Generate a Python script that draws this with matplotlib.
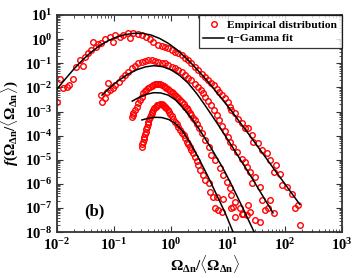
import numpy as np
import matplotlib
matplotlib.use("Agg")
import matplotlib.pyplot as plt
from matplotlib.ticker import LogLocator, NullFormatter

# values, as log10 of x and log10 of y
emp1_lx = [-2.0, -1.95, -1.89, -1.82, -1.79, -1.72, -1.67, -1.60, -1.54, -1.50,
           -1.45, -1.41, -1.36, -1.32, -1.28, -1.22, -1.16, -1.07, -1.01, -0.98,
           -0.89, -0.84, -0.76, -0.72, -0.66, -0.57, -0.51, -0.44, -0.37, -0.31,
           -0.22, -0.16, -0.11, -0.05, 0.01, 0.07, 0.12, 0.19, 0.25, 0.30,
           0.36, 0.42, 0.48, 0.54, 0.60, 0.65, 0.70, 0.75, 0.80, 0.85,
           0.90, 0.95, 1.00, 1.03, 1.06, 1.12, 1.18, 1.24, 1.30, 1.36,
           1.42, 1.44, 1.53, 1.59, 1.68, 1.74, 1.80, 1.85, 1.91, 1.94,
           2.03, 2.12, 2.18, 2.23, 2.26]
emp1_ly = [-2.61, -1.66, -2.03, -1.99, -1.90, -1.66, -1.16, -0.87, -1.10, -0.73,
           -0.59, -0.45, -0.13, -0.31, -0.22, -0.18, -0.01, 0.10, -0.13, 0.17,
           0.10, 0.17, 0.27, 0.06, 0.24, 0.21, 0.17, 0.10, -0.01, -0.11,
           -0.24, -0.29, -0.31, -0.38, -0.45, -0.52, -0.59, -0.66, -0.80, -0.87,
           -1.00, -1.14, -1.28, -1.45, -1.55, -1.68, -1.80, -1.92, -2.05, -2.18,
           -2.30, -2.45, -2.62, -2.80, -2.94, -3.08, -3.29, -3.49, -3.70, -3.70,
           -3.98, -4.26, -4.32, -4.60, -4.74, -5.02, -5.50, -5.22, -5.57, -6.05,
           -6.12, -6.40, -7.02, -6.88, -7.71]

emp2_lx = [-1.22, -1.21, -1.16, -1.13, -1.10, -1.07, -1.01, -0.98, -0.92, -0.86,
           -0.81, -0.75, -0.69, -0.63, -0.57, -0.51, -0.46, -0.40, -0.34, -0.28,
           -0.22, -0.16, -0.11, -0.05, 0.01, 0.07, 0.13, 0.19, 0.25, 0.30,
           0.36, 0.42, 0.48, 0.53, 0.57, 0.60, 0.65, 0.70, 0.75, 0.80,
           0.85, 0.90, 0.95, 1.00, 1.04, 1.09, 1.15, 1.24, 1.30, 1.33,
           1.39, 1.42, 1.47, 1.56, 1.59, 1.65, 1.71, 1.74, 1.80]
emp2_ly = [-2.32, -2.60, -2.45, -2.18, -1.83, -2.11, -2.04, -1.90, -1.77, -1.63,
           -1.49, -1.35, -1.21, -1.12, -1.00, -0.94, -0.90, -0.87, -0.87, -0.90,
           -0.94, -0.97, -1.00, -1.07, -1.14, -1.21, -1.28, -1.38, -1.49, -1.60,
           -1.70, -1.84, -1.98, -2.12, -2.25, -2.40, -2.55, -2.75, -2.95, -3.15,
           -3.35, -3.60, -3.80, -4.05, -4.26, -4.46, -4.67, -4.95, -5.09, -5.29,
           -5.50, -5.98, -5.71, -6.12, -6.68, -7.09, -7.02, -6.68, -7.20]

emp3_lx = [-0.69, -0.67, -0.66, -0.63, -0.60, -0.57, -0.54, -0.51, -0.49, -0.46,
           -0.43, -0.40, -0.37, -0.34, -0.31, -0.28, -0.25, -0.22, -0.19, -0.16,
           -0.13, -0.11, -0.08, -0.05, -0.02, 0.01, 0.04, 0.07, 0.10, 0.13,
           0.16, 0.19, 0.22, 0.25, 0.28, 0.30, 0.33, 0.36, 0.39, 0.42,
           0.46, 0.50, 0.54, 0.60, 0.66, 0.71, 0.77, 0.86, 0.92, 0.98,
           1.04, 1.06, 1.12, 1.09, 1.21, 1.24, 1.33, 1.36, 1.39, 1.47, 1.56]
emp3_ly = [-3.22, -3.15, -3.08, -2.94, -2.80, -2.66, -2.53, -2.39, -2.25, -2.14,
           -2.09, -2.04, -1.99, -1.95, -1.91, -1.88, -1.87, -1.86, -1.88, -1.90,
           -1.94, -1.98, -2.03, -2.08, -2.13, -2.18, -2.25, -2.32, -2.39, -2.46,
           -2.53, -2.60, -2.70, -2.80, -2.87, -2.94, -3.05, -3.15, -3.25, -3.36,
           -3.50, -3.70, -3.91, -4.19, -4.46, -4.81, -5.02, -5.36, -5.64, -5.92,
           -6.19, -6.47, -6.75, -6.95, -7.02, -7.23, -7.30, -6.88, -7.16, -7.51, -7.58]

emp4_lx = [-0.51, -0.50, -0.49, -0.48, -0.47, -0.455, -0.44, -0.43, -0.42, -0.41,
           -0.40, -0.385, -0.37, -0.355, -0.34, -0.325, -0.31, -0.29, -0.27, -0.245,
           -0.22, -0.19, -0.16, -0.14, -0.12, -0.10, -0.08, -0.06, -0.04, -0.015,
           0.01, 0.04, 0.07, 0.10, 0.13, 0.16, 0.19, 0.22, 0.25, 0.28,
           0.30, 0.33, 0.36, 0.39, 0.42, 0.45, 0.48, 0.51, 0.57, 0.60,
           0.66, 0.68, 0.74, 0.80, 0.77, 0.83, 0.89, 0.92, 1.06, 1.12, 1.27]
emp4_ly = [-4.46, -4.36, -4.26, -4.15, -4.05, -3.94, -3.84, -3.73, -3.63, -3.53,
           -3.43, -3.32, -3.22, -3.15, -3.08, -3.01, -2.94, -2.87, -2.80, -2.75,
           -2.72, -2.70, -2.70, -2.72, -2.76, -2.81, -2.87, -2.94, -3.01, -3.10,
           -3.19, -3.31, -3.43, -3.53, -3.63, -3.77, -3.88, -3.98, -4.10, -4.25,
           -4.35, -4.47, -4.60, -4.74, -4.88, -5.05, -5.22, -5.43, -5.64, -5.85,
           -5.98, -6.33, -6.54, -6.54, -7.02, -7.09, -7.16, -6.61, -7.02, -7.37, -7.23]

fit1_lx = [-2.0, -1.85, -1.7, -1.55, -1.4, -1.25, -1.1, -0.95, -0.8, -0.65, -0.5,
           -0.35, -0.2, -0.05, 0.1, 0.25, 0.4, 0.55, 0.7, 0.85, 1.05, 1.39, 1.8, 2.26]
fit1_ly = [-2.07, -1.64, -1.23, -0.86, -0.54, -0.27, -0.06, 0.09, 0.19, 0.24, 0.24,
           0.17, 0.03, -0.17, -0.43, -0.75, -1.11, -1.5, -1.91, -2.35, -2.94, -4.02, -5.36, -6.85]

fit2_lx = [-1.21, -1.05, -0.9, -0.75, -0.6, -0.45, -0.3, -0.15, 0.0, 0.15, 0.3,
           0.45, 0.6, 0.8, 1.035, 1.39, 1.79]
fit2_ly = [-2.32, -1.96, -1.68, -1.45, -1.27, -1.15, -1.1, -1.14, -1.27, -1.5, -1.82,
           -2.25, -2.75, -3.45, -4.31, -5.64, -7.2]

fit3_lx = [-0.68, -0.55, -0.42, -0.3, -0.18, -0.05, 0.08, 0.21, 0.35, 0.5, 0.7,
           0.9, 1.05, 1.25, 1.47]
fit3_ly = [-2.57, -2.4, -2.28, -2.22, -2.23, -2.32, -2.52, -2.85, -3.25, -3.75, -4.5,
           -5.3, -5.98, -6.95, -8.05]

fit4_lx = [-0.51, -0.4, -0.28, -0.16, -0.04, 0.08, 0.2, 0.35, 0.5, 0.65, 0.8, 0.95, 1.09]
fit4_ly = [-3.35, -3.28, -3.24, -3.25, -3.33, -3.5, -3.8, -4.35, -5.0, -5.7, -6.45, -7.2, -8.0]

plt.rcParams["font.family"] = ["Liberation Serif", "DejaVu Serif"]
plt.rcParams["font.weight"] = "bold"
plt.rcParams["mathtext.fontset"] = "custom"
plt.rcParams["mathtext.rm"] = "Liberation Serif:bold"
plt.rcParams["mathtext.it"] = "Liberation Serif:italic:bold"
plt.rcParams["mathtext.bf"] = "Liberation Serif:bold"

fig = plt.figure(figsize=(3.54, 2.78), dpi=100)
ax = fig.add_axes([0.161, 0.165, 0.805, 0.781])

emp = [(emp1_lx, emp1_ly), (emp2_lx, emp2_ly), (emp3_lx, emp3_ly), (emp4_lx, emp4_ly)]
fits = [(fit1_lx, fit1_ly), (fit2_lx, fit2_ly), (fit3_lx, fit3_ly), (fit4_lx, fit4_ly)]

for i, (lx, ly) in enumerate(emp):
    ax.plot(10 ** np.array(lx), 10 ** np.array(ly), "o", ls="none", mfc="none",
            mec="red", mew=1.0, ms=4, label="Empirical distribution" if i == 0 else None,
            zorder=2)
for i, (lx, ly) in enumerate(fits):
    ax.plot(10 ** np.array(lx), 10 ** np.array(ly), "-", color="black", lw=1.1,
            label="q\u2212Gamma fit" if i == 0 else None, zorder=3)

ax.set_xscale("log")
ax.set_yscale("log")
ax.set_xlim(1e-2, 1e3)
ax.set_ylim(1e-8, 1e1)

ax.xaxis.set_major_locator(LogLocator(base=10, numticks=15))
ax.yaxis.set_major_locator(LogLocator(base=10, numticks=15))
ax.xaxis.set_minor_locator(LogLocator(base=10, subs=np.arange(2, 10), numticks=15))
ax.yaxis.set_minor_locator(LogLocator(base=10, subs=np.arange(2, 10), numticks=15))
ax.xaxis.set_minor_formatter(NullFormatter())
ax.yaxis.set_minor_formatter(NullFormatter())
ax.tick_params(which="both", direction="in", top=True, right=True, labelsize=10.5,
               color="#333333")
ax.tick_params(which="major", length=4, width=0.8)
ax.tick_params(which="minor", length=2, width=0.6)
for s in ax.spines.values():
    s.set_linewidth(1.3)
    s.set_color("#333333")

ax.set_xlabel(r"$\Omega_{\Delta \mathrm{n}}/\langle\Omega_{\Delta \mathrm{n}}\rangle$",
              fontsize=11)
ax.set_ylabel(r"$\mathit{f}(\Omega_{\Delta \mathrm{n}}/\langle\Omega_{\Delta \mathrm{n}}\rangle)$",
              fontsize=11)
ax.xaxis.set_label_coords(0.52, -0.095)
ax.yaxis.set_label_coords(-0.13, 0.5)

ax.text(0.045, 10 ** -7.13, "(b)", fontsize=12, fontweight="bold", ha="center", va="center")

leg = ax.legend(loc="upper right", fontsize=8.2, frameon=True, fancybox=False,
                edgecolor="black", borderaxespad=0, handlelength=1.8, handletextpad=0.3,
                borderpad=0.4, labelspacing=0.35)
leg.get_frame().set_linewidth(0.9)

fig.savefig("out.png", dpi=100)
